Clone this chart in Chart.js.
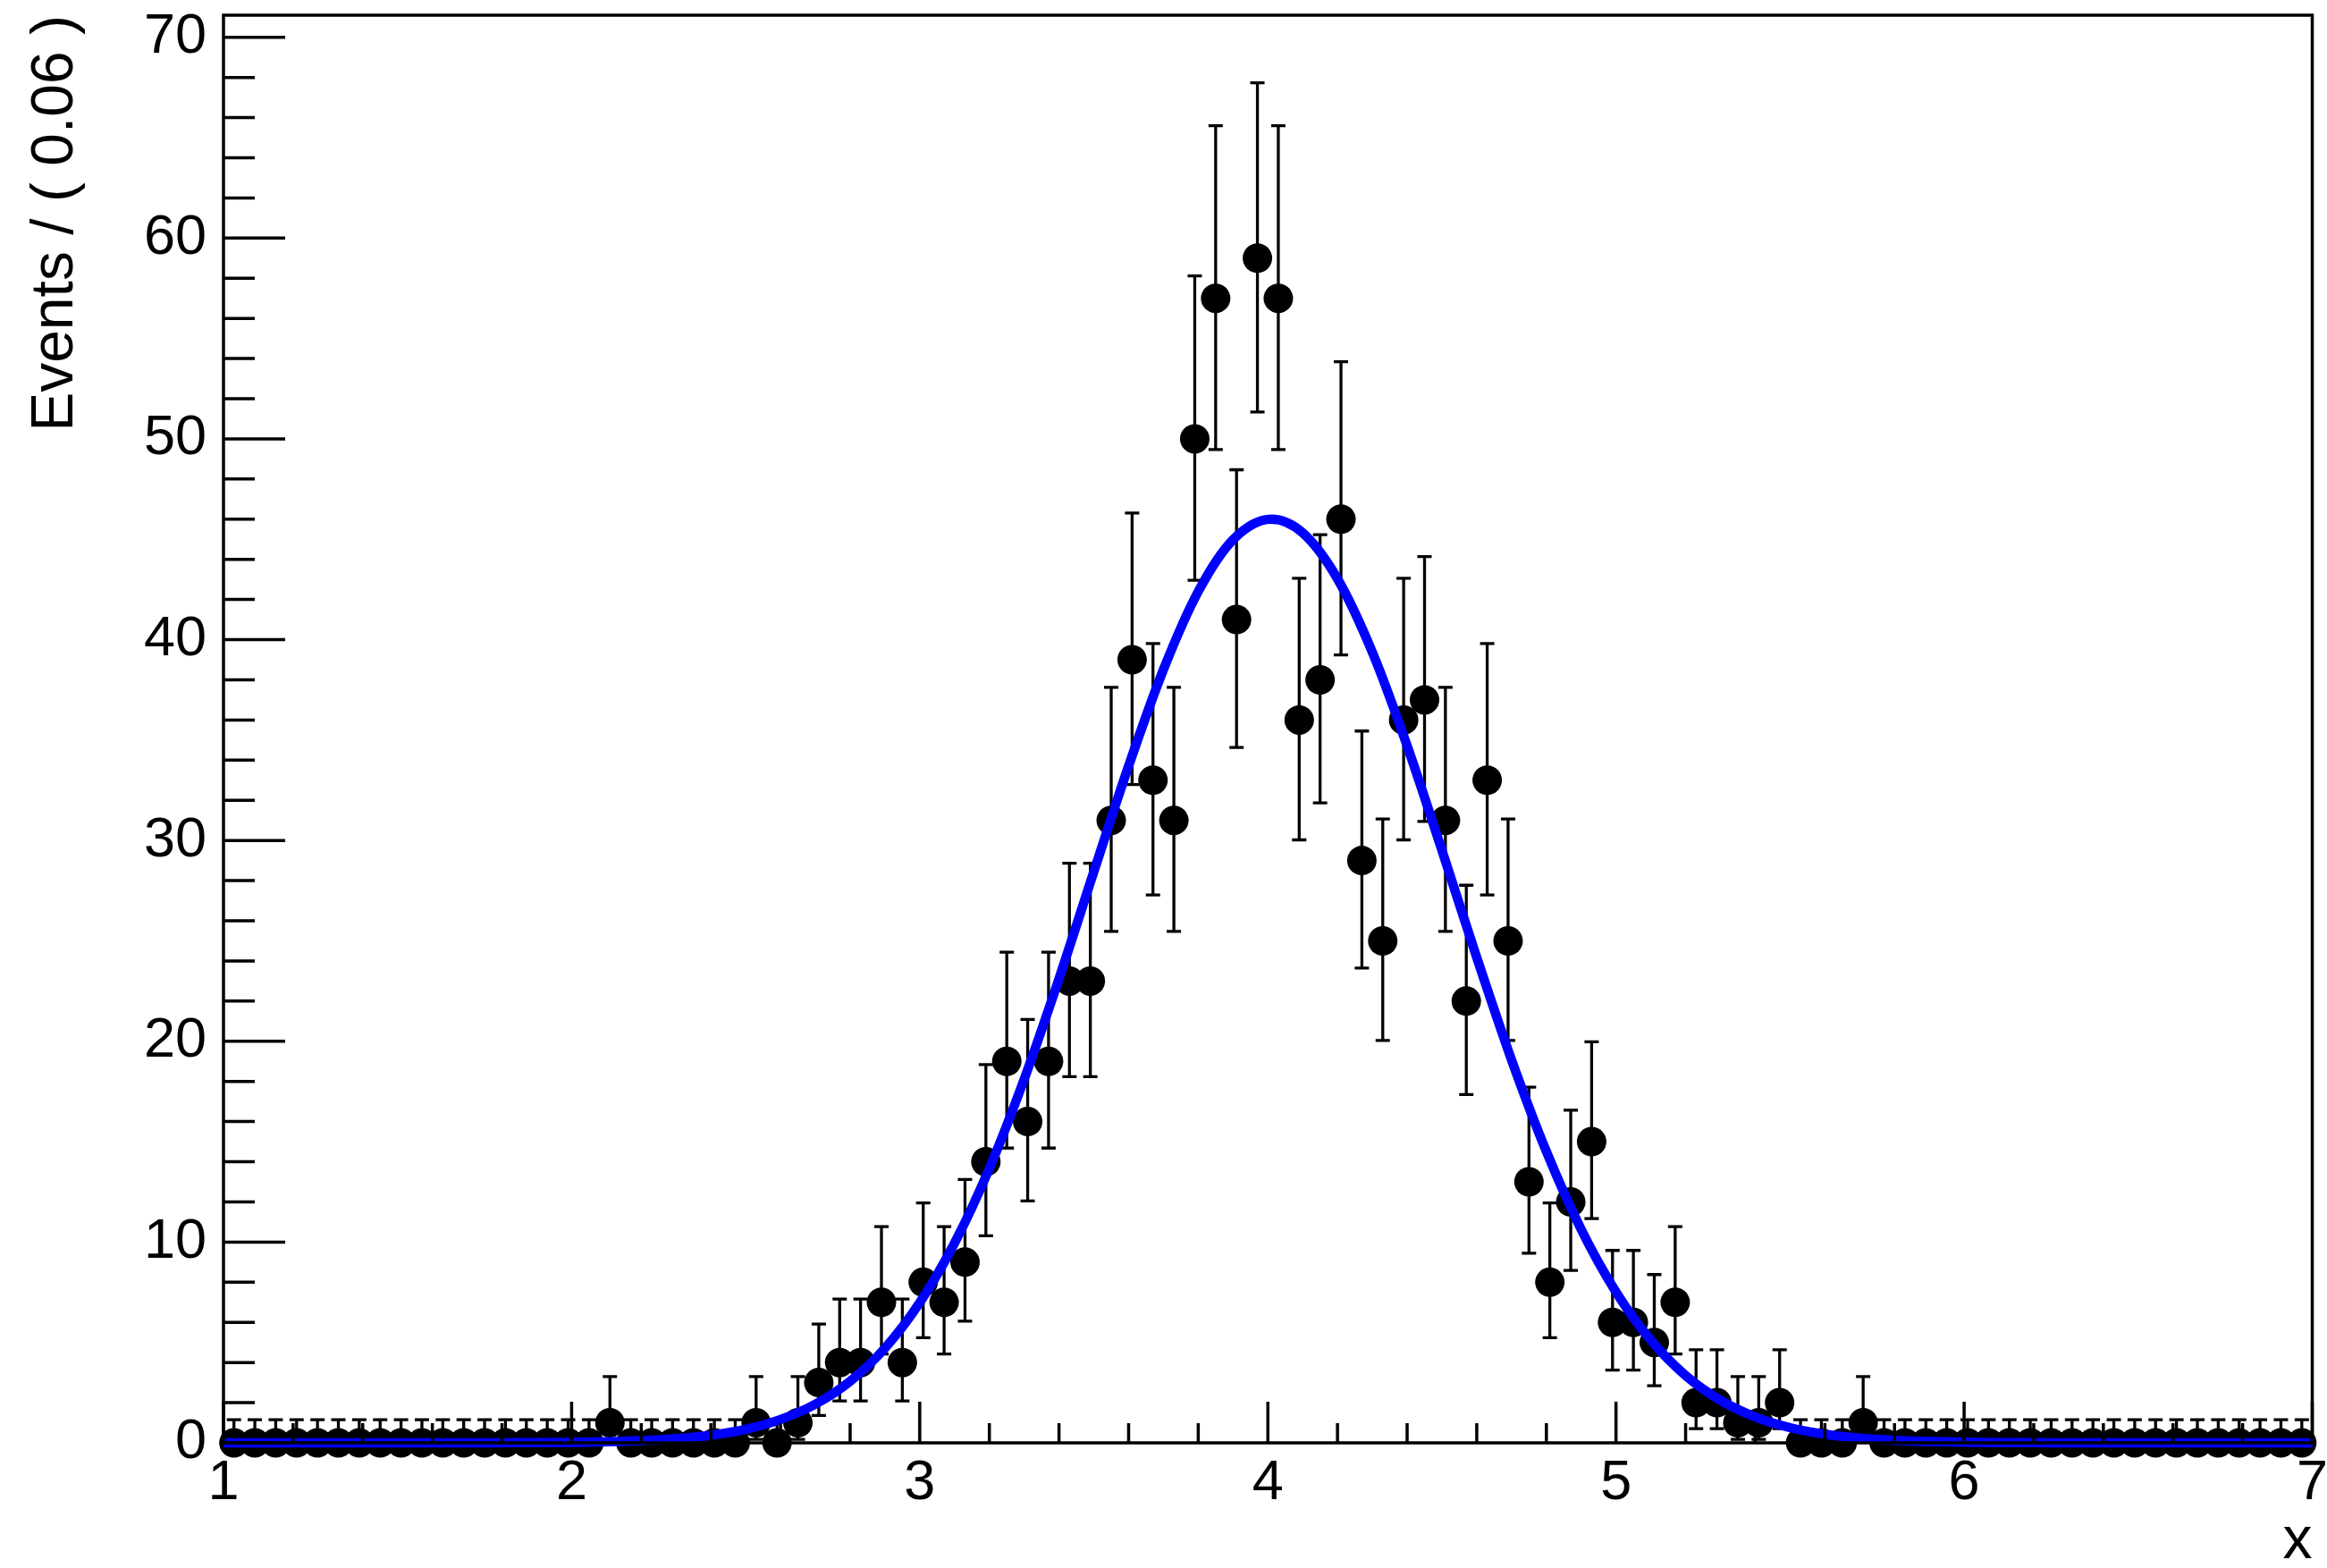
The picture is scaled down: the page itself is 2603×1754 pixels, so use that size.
<!DOCTYPE html>
<html><head><meta charset="utf-8">
<script src="https://cdn.jsdelivr.net/npm/chart.js@4.4.1/dist/chart.umd.min.js"></script>
<style>html,body{margin:0;padding:0;background:#fff;overflow:hidden}canvas{display:block}</style>
</head><body>
<canvas id="c" width="2603" height="1754"></canvas>
<script>
// ---- data ----
const binCenters = [
  1.03,1.09,1.15,1.21,1.27,1.33,1.39,1.45,1.51,1.57,
  1.63,1.69,1.75,1.81,1.87,1.93,1.99,2.05,2.11,2.17,
  2.23,2.29,2.35,2.41,2.47,2.53,2.59,2.65,2.71,2.77,
  2.83,2.89,2.95,3.01,3.07,3.13,3.19,3.25,3.31,3.37,
  3.43,3.49,3.55,3.61,3.67,3.73,3.79,3.85,3.91,3.97,
  4.03,4.09,4.15,4.21,4.27,4.33,4.39,4.45,4.51,4.57,
  4.63,4.69,4.75,4.81,4.87,4.93,4.99,5.05,5.11,5.17,
  5.23,5.29,5.35,5.41,5.47,5.53,5.59,5.65,5.71,5.77,
  5.83,5.89,5.95,6.01,6.07,6.13,6.19,6.25,6.31,6.37,
  6.43,6.49,6.55,6.61,6.67,6.73,6.79,6.85,6.91,6.97
];
const counts = [
  0,0,0,0,0,0,0,0,0,0,
  0,0,0,0,0,0,0,0,1,0,
  0,0,0,0,0,1,0,1,3,4,
  4,7,4,8,7,9,14,19,16,19,
  23,23,31,39,33,31,50,57,41,59,
  57,36,38,46,29,25,36,37,31,22,
  33,25,13,8,12,15,6,6,5,7,
  2,2,1,1,2,0,0,0,1,0,
  0,0,0,0,0,0,0,0,0,0,
  0,0,0,0,0,0,0,0,0,0
];
const errLow = [
  0,0,0,0,0,0,0,0,0,0,
  0,0,0,0,0,0,0,0,0.827,0,
  0,0,0,0,0,0.827,0,0.827,1.633,1.914,
  1.914,2.580,1.914,2.765,2.580,2.938,3.69,4.32,3.95,4.32,
  4.76,4.76,5.53,6.22,5.71,5.53,7.04,7.53,6.37,7.66,
  7.53,5.97,6.13,6.76,5.35,4.96,5.97,6.05,5.53,4.65,
  5.71,4.96,3.56,2.765,3.41,3.83,2.380,2.380,2.160,2.580,
  1.292,1.292,0.827,0.827,1.292,0,0,0,0.827,0,
  0,0,0,0,0,0,0,0,0,0,
  0,0,0,0,0,0,0,0,0,0
];
const errHigh = [
  1.148,1.148,1.148,1.148,1.148,1.148,1.148,1.148,1.148,1.148,
  1.148,1.148,1.148,1.148,1.148,1.148,1.148,1.148,2.300,1.148,
  1.148,1.148,1.148,1.148,1.148,2.300,1.148,2.300,2.918,3.163,
  3.163,3.772,3.163,3.950,3.772,4.119,4.84,5.44,5.09,5.44,
  5.87,5.87,6.63,7.31,6.81,6.63,8.12,8.60,7.46,8.73,
  8.60,7.06,7.23,7.84,6.45,6.07,7.06,7.14,6.63,5.77,
  6.81,6.07,4.71,3.950,4.57,4.97,3.584,3.584,3.382,3.772,
  2.638,2.638,2.300,2.300,2.638,1.148,1.148,1.148,2.300,1.148,
  1.148,1.148,1.148,1.148,1.148,1.148,1.148,1.148,1.148,1.148,
  1.148,1.148,1.148,1.148,1.148,1.148,1.148,1.148,1.148,1.148
];
const curveX = [
  1.0,1.1,1.2,1.3,1.4,1.5,1.6,1.7,1.8,1.9,
  2.0,2.1,2.2,2.3,2.4,2.5,2.6,2.7,2.8,2.9,
  3.0,3.1,3.2,3.3,3.4,3.5,3.6,3.7,3.8,3.9,
  4.01,4.1,4.2,4.3,4.4,4.5,4.6,4.7,4.8,4.9,
  5.0,5.1,5.2,5.3,5.4,5.5,5.6,5.7,5.8,5.9,
  6.0,6.1,6.2,6.3,6.4,6.5,6.6,6.7,6.8,6.9,7.0
];
const curveY = [
  0,0,0,0,0,0,0.001,0.002,0.005,0.012,
  0.026,0.054,0.108,0.207,0.381,0.678,1.165,1.926,3.069,4.714,
  6.98,9.95,13.67,18.11,23.11,28.44,33.71,38.51,42.40,44.98,
  46.00,45.32,43.03,39.38,34.72,29.51,24.17,19.07,14.51,10.63,
  7.51,5.11,3.35,2.12,1.29,0.758,0.429,0.234,0.123,0.062,
  0.030,0.014,0.006,0.003,0.001,0,0,0,0,0,0
];
const xTickValues = [1,2,3,4,5,6,7];
const xTickLabels = ['1','2','3','4','5','6','7'];
const yTickValues = [0,10,20,30,40,50,60,70];
const yTickLabels = ['0','10','20','30','40','50','60','70'];
const xRange = [1, 7];
const yRange = [0, 71.1];
const xTitle = 'x';
const yTitle = 'Events / ( 0.06 )';

// ---- styling ----
const FONT = '"Liberation Sans", Arial, Helvetica, sans-serif';

const rootPlugin = {
  id: 'rootPlugin',
  beforeDatasetsDraw(chart) {
    const ctx = chart.ctx, xs = chart.scales.x, ys = chart.scales.y;
    ctx.save();
    ctx.strokeStyle = '#000';
    ctx.lineWidth = 3.3;
    ctx.lineCap = 'butt';
    const cap = 8;
    for (let i = 0; i < counts.length; i++) {
      const px = xs.getPixelForValue(binCenters[i]);
      const top = ys.getPixelForValue(counts[i] + errHigh[i]);
      const bot = ys.getPixelForValue(counts[i] - errLow[i]);
      ctx.beginPath();
      ctx.moveTo(px, top); ctx.lineTo(px, bot);
      ctx.moveTo(px - cap, top); ctx.lineTo(px + cap, top);
      if (errLow[i] > 0) { ctx.moveTo(px - cap, bot); ctx.lineTo(px + cap, bot); }
      ctx.stroke();
    }
    ctx.restore();
  },
  afterDatasetsDraw(chart) {
    const ctx = chart.ctx, xs = chart.scales.x, ys = chart.scales.y;
    const a = chart.chartArea;
    ctx.save();
    ctx.strokeStyle = '#000';
    ctx.lineWidth = 3.5;
    ctx.lineCap = 'butt';
    ctx.beginPath();
    // y ticks (major every 10, minor every 2)
    for (let i = 0; i <= 35; i++) {
      const v = i * 2;
      const py = ys.getPixelForValue(v);
      const len = (v % 10 === 0) ? 69 : 35;
      ctx.moveTo(a.left, py); ctx.lineTo(a.left + len, py);
    }
    // x ticks (major every 1, minor every 0.2)
    for (let i = 0; i <= 30; i++) {
      const v = 1 + i * 0.2;
      const px = xs.getPixelForValue(v);
      const len = (i % 5 === 0) ? 46 : 22;
      ctx.moveTo(px, a.bottom); ctx.lineTo(px, a.bottom - len);
    }
    ctx.stroke();
    ctx.lineWidth = 3.5;
    ctx.strokeRect(a.left, a.top, a.right - a.left, a.bottom - a.top);
    ctx.restore();
  }
};

new Chart(document.getElementById('c'), {
  type: 'scatter',
  data: {
    datasets: [
      {
        label: 'fit',
        data: curveX.map((x, i) => ({x: x, y: curveY[i]})),
        showLine: true,
        borderColor: '#0000ff',
        borderWidth: 10.5,
        pointRadius: 0,
        pointHoverRadius: 0,
        cubicInterpolationMode: 'monotone',
        tension: 0.4,
        borderJoinStyle: 'round',
        fill: false,
        clip: false,
        order: 0
      },
      {
        label: 'data',
        data: binCenters.map((x, i) => ({x: x, y: counts[i]})),
        showLine: false,
        pointStyle: 'circle',
        pointRadius: 16.5,
        pointHoverRadius: 16.5,
        backgroundColor: '#000',
        borderColor: '#000',
        borderWidth: 0,
        clip: false,
        order: 1
      }
    ]
  },
  options: {
    responsive: false,
    animation: false,
    events: [],
    layout: { padding: { top: 17, right: 4, bottom: 0, left: 0 } },
    plugins: { legend: { display: false }, tooltip: { enabled: false } },
    scales: {
      x: {
        type: 'linear',
        min: xRange[0], max: xRange[1],
        grid: { display: false, drawTicks: false },
        border: { display: false },
        afterBuildTicks: (s) => { s.ticks = xTickValues.map(v => ({value: v})); },
        afterFit: (s) => { s.height = 140; s.paddingLeft = 0; s.paddingRight = 0; },
        ticks: {
          autoSkip: false, maxRotation: 0, minRotation: 0,
          padding: 8, color: '#000',
          font: { family: FONT, size: 63, lineHeight: 1.2 },
          callback: (v, i) => xTickLabels[i]
        },
        title: {
          display: true, text: xTitle, align: 'end', color: '#000',
          font: { family: FONT, size: 66, lineHeight: 0.88 },
          padding: { top: 0, bottom: 0 }
        }
      },
      y: {
        type: 'linear',
        min: yRange[0], max: yRange[1],
        grid: { display: false, drawTicks: false },
        border: { display: false },
        afterBuildTicks: (s) => { s.ticks = yTickValues.map(v => ({value: v})); },
        afterFit: (s) => { s.width = 250; s.paddingTop = 0; s.paddingBottom = 0; },
        ticks: {
          autoSkip: false, padding: 19, color: '#000',
          font: { family: FONT, size: 63, lineHeight: 1.2 },
          callback: (v, i) => yTickLabels[i]
        },
        title: {
          display: true, text: yTitle, align: 'end', color: '#000',
          font: { family: FONT, size: 66, lineHeight: 1.2 },
          padding: { top: 23, bottom: 0 }
        }
      }
    }
  },
  plugins: [rootPlugin]
});
</script>
</body></html>
